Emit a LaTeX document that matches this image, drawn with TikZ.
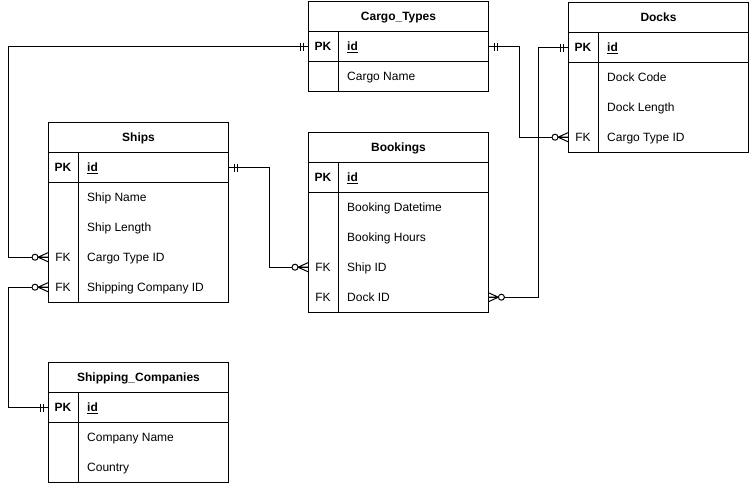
\documentclass[tikz,border=0pt]{standalone}
\usepackage{fontspec}
\setmainfont{Liberation Sans}
\tikzset{
  er/.style={line width=1pt},
  hdr/.style={draw, line width=1pt, anchor=north west, minimum width=180pt, minimum height=30pt, inner sep=0pt, text height=8.6pt, text depth=0pt, font=\fontsize{12}{14}\selectfont\bfseries},
  rowbox/.style={anchor=north west, minimum width=180pt, minimum height=30pt, inner sep=0pt},
  pkbox/.style={rowbox, draw, line width=1pt},
  keytxt/.style={anchor=center, inner sep=0pt, text height=8.6pt, text depth=0pt, font=\fontsize{12}{14}\selectfont},
  fldtxt/.style={anchor=west, inner sep=0pt, text height=8.6pt, text depth=0pt, font=\fontsize{12}{14}\selectfont},
}
\newcommand{\ERone}[2]{\begin{scope}[shift={(#1)}, xscale=#2]\draw[er] (-5pt,-4pt)--(-5pt,4pt) (-8pt,-4pt)--(-8pt,4pt);\end{scope}}
\newcommand{\ERzm}[2]{\begin{scope}[shift={(#1)}, xscale=#2]\draw[er] (0pt,4.5pt)--(-10pt,0pt)--(0pt,-4.5pt) (-10pt,0pt)--(0pt,0pt);\draw[er,fill=white] (-13pt,0pt) circle[radius=3pt];\end{scope}}
% table frame: #1 name, #2 x, #3 y (top), #4 title, #5 number of body rows
\newcommand{\ERtable}[5]{%
  \node[hdr] (#1-h) at (#2,#3) {#4};
  \node[pkbox] (#1-pk) at (#2,#3+30) {};
  \node[keytxt] at ([xshift=15pt]#1-pk.west) {\bfseries PK};
  \node[fldtxt] at ([xshift=39pt]#1-pk.west) {\bfseries\underline{id}};
  \draw[er] (#2,#3) rectangle (#2+180,#3+60+30*#5);
  \draw[er] (#2+30,#3+30) -- (#2+30,#3+60+30*#5);
}
\begin{document}
\begin{tikzpicture}[x=1pt,y=-1pt]
\useasboundingbox (0,0) rectangle (749,483);
% Cargo_Types
\ERtable{ct}{308}{1}{Cargo\_Types}{1}
\node[rowbox] (ct-r1) at (308,61) {};
\node[fldtxt] at ([xshift=39pt]ct-r1.west) {Cargo Name};
% Docks
\ERtable{dk}{568}{2}{Docks}{3}
\node[rowbox] (dk-r1) at (568,62) {};
\node[rowbox] (dk-r2) at (568,92) {};
\node[rowbox] (dk-r3) at (568,122) {};
\node[fldtxt] at ([xshift=39pt]dk-r1.west) {Dock Code};
\node[fldtxt] at ([xshift=39pt]dk-r2.west) {Dock Length};
\node[keytxt] at ([xshift=15pt]dk-r3.west) {FK};
\node[fldtxt] at ([xshift=39pt]dk-r3.west) {Cargo Type ID};
% Ships
\ERtable{sh}{48}{122}{Ships}{4}
\node[rowbox] (sh-r1) at (48,182) {};
\node[rowbox] (sh-r2) at (48,212) {};
\node[rowbox] (sh-r3) at (48,242) {};
\node[rowbox] (sh-r4) at (48,272) {};
\node[fldtxt] at ([xshift=39pt]sh-r1.west) {Ship Name};
\node[fldtxt] at ([xshift=39pt]sh-r2.west) {Ship Length};
\node[keytxt] at ([xshift=15pt]sh-r3.west) {FK};
\node[fldtxt] at ([xshift=39pt]sh-r3.west) {Cargo Type ID};
\node[keytxt] at ([xshift=15pt]sh-r4.west) {FK};
\node[fldtxt] at ([xshift=39pt]sh-r4.west) {Shipping Company ID};
% Bookings
\ERtable{bk}{308}{132}{Bookings}{4}
\node[rowbox] (bk-r1) at (308,192) {};
\node[rowbox] (bk-r2) at (308,222) {};
\node[rowbox] (bk-r3) at (308,252) {};
\node[rowbox] (bk-r4) at (308,282) {};
\node[fldtxt] at ([xshift=39pt]bk-r1.west) {Booking Datetime};
\node[fldtxt] at ([xshift=39pt]bk-r2.west) {Booking Hours};
\node[keytxt] at ([xshift=15pt]bk-r3.west) {FK};
\node[fldtxt] at ([xshift=39pt]bk-r3.west) {Ship ID};
\node[keytxt] at ([xshift=15pt]bk-r4.west) {FK};
\node[fldtxt] at ([xshift=39pt]bk-r4.west) {Dock ID};
% Shipping_Companies
\ERtable{sc}{48}{362}{Shipping\_Companies}{2}
\node[rowbox] (sc-r1) at (48,422) {};
\node[rowbox] (sc-r2) at (48,452) {};
\node[fldtxt] at ([xshift=39pt]sc-r1.west) {Company Name};
\node[fldtxt] at ([xshift=39pt]sc-r2.west) {Country};
% connectors
\draw[er] (ct-pk.west) -- ++(-300,0) |- (sh-r3.west);
\draw[er] (sh-r4.west) -- ++(-40,0) |- (sc-pk.west);
\draw[er] (sh-pk.east) -- ++(40,0) |- (bk-r3.west);
\draw[er] (bk-r4.east) -- ++(50,0) |- (dk-pk.west);
\draw[er] (ct-pk.east) -- ++(30,0) |- (dk-r3.west);
% end marks
\ERone{ct-pk.west}{1}
\ERzm{sh-r3.west}{1}
\ERzm{sh-r4.west}{1}
\ERone{sc-pk.west}{1}
\ERone{sh-pk.east}{-1}
\ERzm{bk-r3.west}{1}
\ERzm{bk-r4.east}{-1}
\ERone{dk-pk.west}{1}
\ERone{ct-pk.east}{-1}
\ERzm{dk-r3.west}{1}
\end{tikzpicture}
\end{document}
